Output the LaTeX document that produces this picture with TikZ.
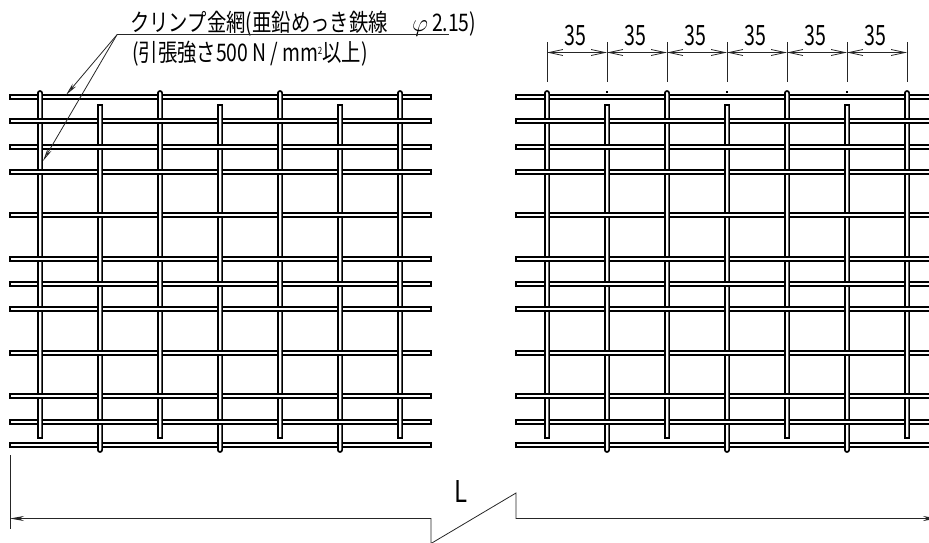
\documentclass[tikz,border=0pt]{standalone}
\usepackage{fontspec}
\setmainfont[FakeStretch=0.8]{Noto Sans CJK JP}
\newfontfamily\dimfont[FakeStretch=0.7]{Noto Sans CJK JP}
\usetikzlibrary{arrows.meta, positioning}

\tikzset{
  wire/.style={draw=black, fill=white, line width=1.7pt},
  thinline/.style={draw=black!85, line width=0.8pt},
  dimtip/.style={{Straight Barb[length=14pt,width=6pt]}-{Straight Barb[length=14pt,width=6pt]}},
  leadtip/.style={-{Stealth[open,length=13pt,width=4.5pt]}},
  notetext/.style={inner sep=0pt, anchor=base west, font=\fontsize{24.2}{25}\selectfont},
  dimtext/.style={inner sep=0pt, font=\dimfont\fontsize{28}{28}\selectfont}
}

% #1 left end, #2 right end, #3 first rod
\newcommand{\wirepanel}[3]{
  % Long wires
  \foreach \yy in {97,121,147,172,215,259,284,309,353,396,422,445}
    \draw[wire] (#1,\yy-2.1) rectangle (#2,\yy+2.1);
  % Rods
  \foreach \cc in {0,2,4,6}
    \draw[wire] ({#3+60*\cc-2.1},438) -- ({#3+60*\cc-2.1},93.1) arc (180:360:2.1) -- ({#3+60*\cc+2.1},438) -- cycle;
  \foreach \cc in {1,3,5}
    \draw[wire] ({#3+60*\cc-2.1},105) -- ({#3+60*\cc-2.1},449.9) arc (180:0:2.1) -- ({#3+60*\cc+2.1},105) -- cycle;
  % Crossings where the long wire lies on top
  \foreach \yy [count=\rr from 0] in {97,121,147,172,215,259,284,309,353,396,422,445}
    \foreach \cc in {0,...,6} {
      \pgfmathtruncatemacro{\odd}{mod(\rr+\cc,2)}
      \ifnum\odd=1
        \fill[white] ({#3+60*\cc-4},\yy-2.1) rectangle ({#3+60*\cc+4},\yy+2.1);
        \draw[line width=1.7pt] ({#3+60*\cc-4},\yy-2.1) -- ({#3+60*\cc+4},\yy-2.1);
        \draw[line width=1.7pt] ({#3+60*\cc-4},\yy+2.1) -- ({#3+60*\cc+4},\yy+2.1);
      \fi
    }
}

\begin{document}
\begin{tikzpicture}[x=1pt, y=-1pt]
  \useasboundingbox (0,0) rectangle (929,542);
  \clip (0,0) rectangle (929,542);

  % Left and right panel
  \wirepanel{10}{431}{40}
  \wirepanel{516}{945}{547}

  % Rod marks above the short rods
  \foreach \cc in {607,727,847}
    \fill (\cc-0.6,91.4) rectangle (\cc+0.6,92.6);

  % Note with its leader
  \node[notetext] (noteTop) at (130,31) {クリンプ金網(亜鉛めっき鉄線\hspace{1em}$\varphi$\,2.15)};
  \node[notetext] (noteBot) at (132,61) {(引張強さ500\,N\,/\,mm{\fontsize{10}{10}\selectfont\raisebox{7pt}{2}}以上)};
  \coordinate (leadA) at (117,34.7);
  \coordinate (leadB) at (449,34.7);
  \coordinate (tipTop) at (66,95);
  \coordinate (tipRod) at (43,161);
  \draw[thinline] (leadA) -- (leadB);
  \draw[thinline, leadtip] (leadA) -- (tipTop);
  \draw[thinline, leadtip] (leadA) -- (tipRod);

  % Pitch dimensions
  \foreach \xx in {547,607,667,727,787,847,907} {
    \coordinate (extA\xx) at (\xx,42);
    \coordinate (extB\xx) at (\xx,82);
    \draw[thinline] (extA\xx) -- (extB\xx);
  }
  \foreach \xa/\xb in {547/607,607/667,667/727,727/787,787/847,847/907} {
    \coordinate (dimA\xa) at (\xa,52.5);
    \coordinate (dimB\xa) at (\xb,52.5);
    \draw[thinline, dimtip] (dimA\xa) -- (dimB\xa);
    \node[dimtext] (pitch\xa) at (\xa+28,36) {35};
  }

  % Overall length with break
  \coordinate (endL) at (10,518.5);
  \coordinate (breakA) at (431,518.5);
  \coordinate (breakB) at (431,543.5);
  \coordinate (breakC) at (516,493);
  \coordinate (breakD) at (516,518.5);
  \coordinate (endR) at (937,518.5);
  \coordinate (extTop) at (10,455);
  \coordinate (extBot) at (10,529);
  \draw[thinline] (extTop) -- (extBot);
  \draw[thinline, {Stealth[length=14pt,width=5pt]}-{Stealth[length=14pt,width=5pt]}]
    (endL) -- (breakA) -- (breakB) -- (breakC) -- (breakD) -- (endR);
  \node[inner sep=0pt, font=\fontsize{30}{30}\selectfont] (lenL) at (461,491) {L};
\end{tikzpicture}
\end{document}
